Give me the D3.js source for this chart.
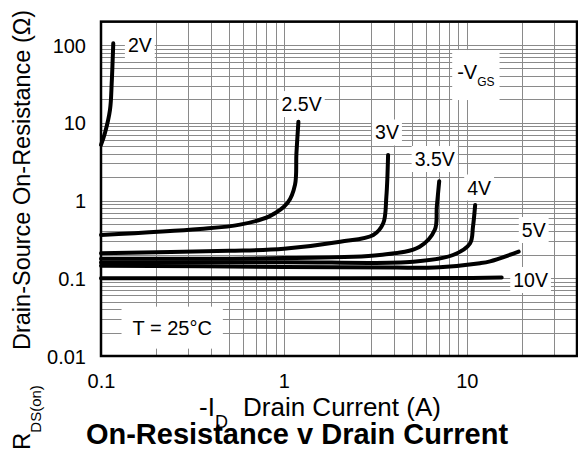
<!DOCTYPE html>
<html lang="en">
<head>
<meta charset="UTF-8">
<title>On-Resistance v Drain Current</title>
<script src="https://cdn.jsdelivr.net/npm/d3@7/dist/d3.min.js"></script>
<style>
  body { margin: 0; background: #fff; }
  text { font-family: "Liberation Sans", Arial, sans-serif; fill: #000; }
</style>
</head>
<body>
<div id="chart"></div>
<script>
// ticks shown on the axes
const xTicks = [0.1, 1, 10];
const yTicks = [0.01, 0.1, 1, 10, 100];

// -VGS curves, points are [drain current A, RDS(on) ohm]
const gateLabels = ["2V", "2.5V", "3V", "3.5V", "4V", "5V", "10V"];
const curve2V = [[0.1, 5.2], [0.1051, 7.4], [0.112, 14.7], [0.1144, 32], [0.1158, 64], [0.1167, 105]];
const curve2p5V = [[0.1, 0.36], [0.347, 0.43], [0.575, 0.49], [0.837, 0.63], [1.05, 0.94], [1.15, 1.6], [1.17, 4.0], [1.2, 10.3]];
const curve3V = [[0.1, 0.21], [0.5, 0.225], [1, 0.24], [2.03, 0.295], [3.08, 0.36], [3.49, 0.51], [3.63, 1.12], [3.71, 3.85]];
const curve3p5V = [[0.1, 0.178], [1, 0.182], [3.34, 0.199], [5.52, 0.255], [6.68, 0.42], [6.85, 0.83], [7.06, 1.77]];
const curve4V = [[0.1, 0.16], [1, 0.161], [5.1, 0.163], [8.4, 0.199], [10.4, 0.28], [10.8, 0.46], [11.1, 0.875]];
const curve5V = [[0.1, 0.145], [1, 0.14], [4, 0.137], [7.1, 0.139], [11.8, 0.156], [13.4, 0.165], [19.2, 0.22]];
const curve10V = [[0.1, 0.1], [1, 0.1], [10, 0.101], [15.5, 0.102]];
const curves = [curve2V, curve2p5V, curve3V, curve3p5V, curve4V, curve5V, curve10V];
// where each curve label sits, in data units
const labelAt = [[0.163, 100], [1.25, 17.4], [3.66, 7.5], [6.67, 3.42], [11.67, 1.47], [23.2, 0.418], [22.3, 0.095]];

const width = 578, height = 451;
const svg = d3.select("#chart").append("svg")
    .attr("width", width).attr("height", height);

const x = d3.scaleLog().domain([0.1, 40]).range([101, 577]);
const y = d3.scaleLog().domain([0.01, 200]).range([356, 21.6]);
const plotW = x.range()[1] - x.range()[0],
    plotH = y.range()[0] - y.range()[1];

// grid
svg.append("g")
    .attr("transform", "translate(0," + y.range()[0] + ")")
    .call(d3.axisBottom(x).tickValues(x.ticks()).tickSize(-plotH).tickFormat(""))
    .call(g => g.select(".domain").remove())
    .selectAll("line").attr("stroke", "#8a8a8a").attr("shape-rendering", "crispEdges");
svg.append("g")
    .attr("transform", "translate(" + x.range()[0] + ",0)")
    .call(d3.axisLeft(y).tickValues(y.ticks()).tickSize(-plotW).tickFormat(""))
    .call(g => g.select(".domain").remove())
    .selectAll("line").attr("stroke", "#8a8a8a").attr("shape-rendering", "crispEdges");

// tick labels
svg.append("g")
    .attr("transform", "translate(0," + y.range()[0] + ")")
    .call(d3.axisBottom(x).tickValues(xTicks).tickSize(0).tickPadding(18).tickFormat(d3.format("")))
    .call(g => g.select(".domain").remove())
    .selectAll("text").attr("font-size", 20).attr("font-family", null);
svg.append("g")
    .attr("transform", "translate(" + x.range()[0] + ",0)")
    .call(d3.axisLeft(y).tickValues(yTicks).tickSize(0).tickPadding(15).tickFormat(d3.format("")))
    .call(g => g.select(".domain").remove())
    .selectAll("text").attr("font-size", 20).attr("font-family", null).attr("dy", "0.36em");

// label layer (white boxes go under the curves)
const boxLayer = svg.append("g");
const curveLayer = svg.append("g");
const textLayer = svg.append("g");

function boxed(node, padX, padY) {
    let b = node.getBBox();
    boxLayer.append("rect")
        .attr("x", b.x - padX).attr("y", b.y - padY)
        .attr("width", b.width + 2 * padX).attr("height", b.height + 2 * padY)
        .attr("fill", "#fff");
}

const line = d3.line()
    .x(d => x(d[0])).y(d => y(d[1]))
    .curve(d3.curveCatmullRom.alpha(0.5));

curveLayer.selectAll("path").data(curves).join("path")
    .attr("d", line)
    .attr("fill", "none").attr("stroke", "#000")
    .attr("stroke-width", 4).attr("stroke-linecap", "round");

gateLabels.forEach((t, i) => {
    let txt = textLayer.append("text")
        .attr("x", x(labelAt[i][0])).attr("y", y(labelAt[i][1]))
        .attr("dy", "0.36em").attr("text-anchor", "middle")
        .attr("font-size", 19.5).text(t);
    boxed(txt.node(), 3, 2);
});

// -VGS legend title
let vgs = textLayer.append("text")
    .attr("x", x(11.2)).attr("y", y(43.6)).attr("dy", "0.3em")
    .attr("text-anchor", "middle").attr("font-size", 20);
vgs.append("tspan").text("-V");
vgs.append("tspan").attr("font-size", 12).attr("dy", 7).text("GS");
boxed(vgs.node(), 5, 11);

// temperature note
let temp = textLayer.append("text")
    .attr("x", x(0.245)).attr("y", y(0.0233)).attr("dy", "0.36em")
    .attr("text-anchor", "middle").attr("font-size", 20).text("T = 25°C");
boxed(temp.node(), 11, 10);

// frame
svg.append("rect")
    .attr("x", x.range()[0]).attr("y", y.range()[1])
    .attr("width", plotW).attr("height", plotH)
    .attr("fill", "none").attr("stroke", "#000").attr("stroke-width", 2.5);

// x axis title
let xt = svg.append("text").attr("y", 416).attr("font-size", 26);
xt.append("tspan").attr("x", 199).text("-I");
xt.append("tspan").attr("font-size", 18).attr("dy", 12).text("D");
xt.append("tspan").attr("x", 243).attr("dy", -12).text("Drain Current (A)");

// y axis title
let yt = svg.append("text").attr("transform", "translate(30,450) rotate(-90)");
yt.append("tspan").attr("font-size", 24).text("R");
yt.append("tspan").attr("font-size", 15).attr("dy", 11).text("DS(on)");
yt.append("tspan").attr("font-size", 23.5).attr("x", 100).attr("dy", -11)
    .text("Drain-Source On-Resistance (Ω)");

// chart title
svg.append("text")
    .attr("x", 297).attr("y", 444).attr("text-anchor", "middle")
    .attr("font-size", 29).attr("font-weight", "bold")
    .text("On-Resistance v Drain Current");
</script>
</body>
</html>
